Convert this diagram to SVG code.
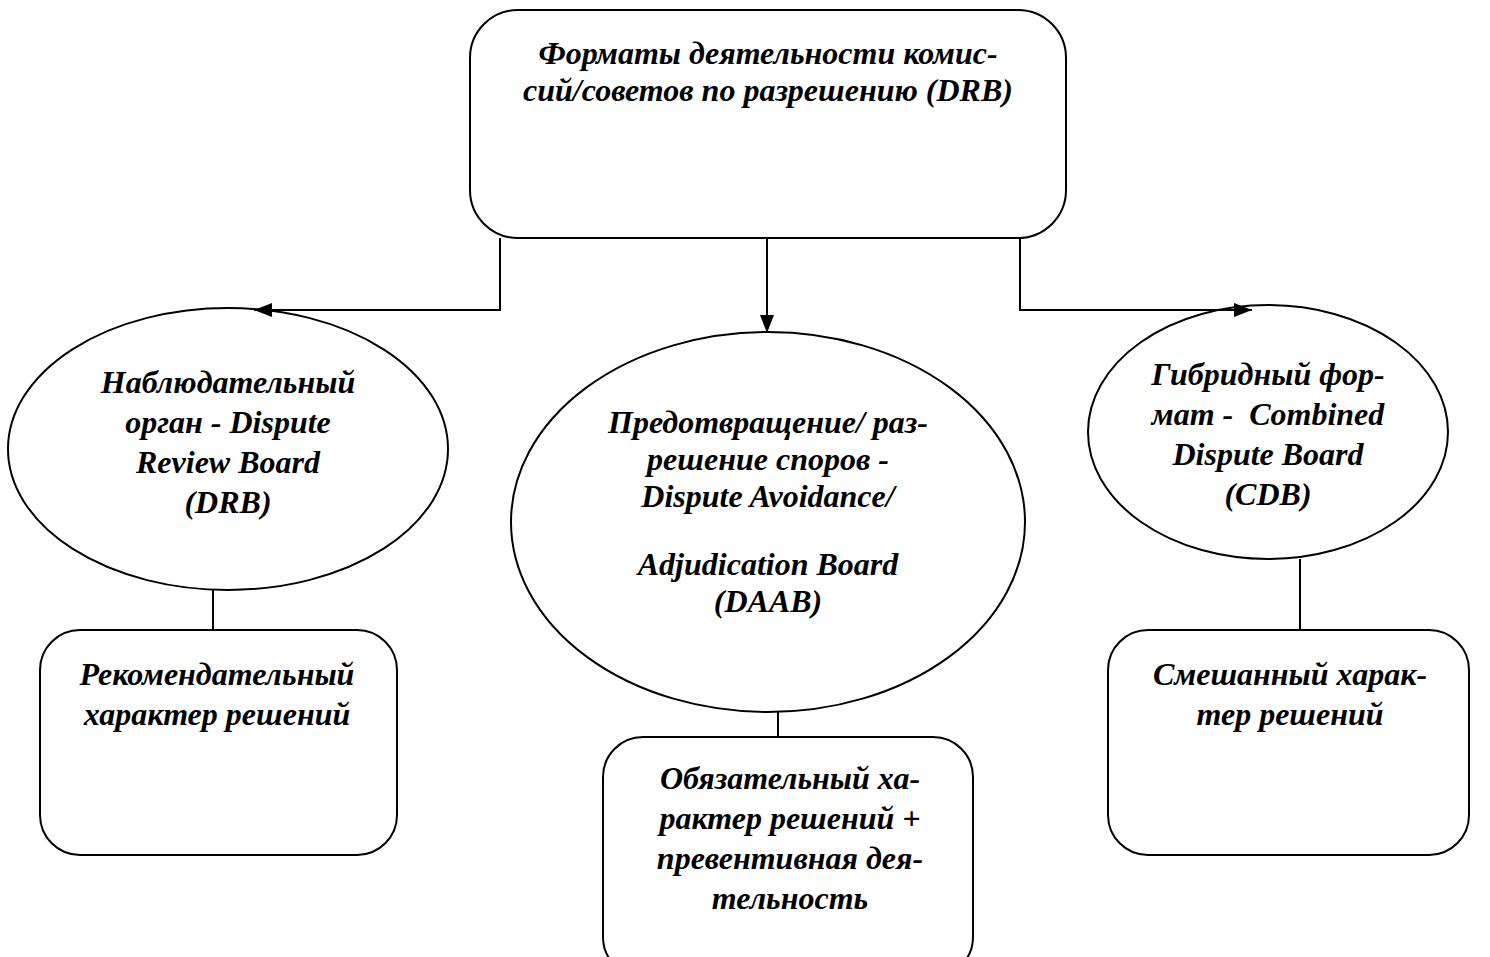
<svg xmlns="http://www.w3.org/2000/svg" width="1490" height="957" viewBox="0 0 1490 957">
<style>
.s{fill:#fff;stroke:#000;stroke-width:2}
.c{fill:none;stroke:#000;stroke-width:2}
text{font-family:"Liberation Serif","Times New Roman",serif;font-weight:bold;font-style:italic;font-size:32px;text-anchor:middle;fill:#000}
</style>
<defs>
<marker id="a" viewBox="0 0 18 14" refX="18" refY="7" markerWidth="18" markerHeight="14" markerUnits="userSpaceOnUse" orient="auto">
<path d="M0,0 L18,7 L0,14 z" fill="#000"/>
</marker>
</defs>
<rect width="1490" height="957" fill="#fff"/>
<g id="top">
<rect class="s" x="470" y="10" width="596" height="228" rx="48"/>
<text x="768" y="64">Форматы деятельности комис-</text>
<text x="768" y="101">сий/советов по разрешению (DRB)</text>
</g>
<g id="drb">
<ellipse class="s" cx="228" cy="449" rx="220" ry="141"/>
<text x="228" y="393">Наблюдательный</text>
<text x="228" y="433">орган - Dispute</text>
<text x="228" y="473">Review Board</text>
<text x="228" y="513">(DRB)</text>
</g>
<g id="daab">
<ellipse class="s" cx="768" cy="522" rx="257" ry="190"/>
<text x="768" y="433">Предотвращение/ раз-</text>
<text x="768" y="470">решение споров -</text>
<text x="768" y="507">Dispute Avoidance/</text>
<text x="768" y="575">Adjudication Board</text>
<text x="768" y="612">(DAAB)</text>
</g>
<g id="cdb">
<ellipse class="s" cx="1268" cy="432" rx="180" ry="127"/>
<text x="1268" y="385">Гибридный фор-</text>
<text x="1268" y="425" xml:space="preserve" style="white-space:pre">мат -  Combined</text>
<text x="1268" y="465">Dispute Board</text>
<text x="1268" y="505">(CDB)</text>
</g>
<g id="rec">
<rect class="s" x="40" y="630" width="357" height="225" rx="40"/>
<text x="217" y="685">Рекомендательный</text>
<text x="217" y="725">характер решений</text>
</g>
<g id="obl">
<rect class="s" x="603" y="737" width="370" height="240" rx="40"/>
<text x="790" y="789">Обязательный ха-</text>
<text x="790" y="829">рактер решений +</text>
<text x="790" y="869">превентивная дея-</text>
<text x="790" y="909">тельность</text>
</g>
<g id="mix">
<rect class="s" x="1108" y="630" width="361" height="225" rx="40"/>
<text x="1290" y="685">Смешанный харак-</text>
<text x="1290" y="725">тер решений</text>
</g>
<g id="connectors">
<polyline class="c" points="500,238 500,310 254,310" marker-end="url(#a)"/>
<polyline class="c" points="767,238 767,333" marker-end="url(#a)"/>
<polyline class="c" points="1020,238 1020,310 1252,310" marker-end="url(#a)"/>
<line class="c" x1="213" y1="590" x2="213" y2="630"/>
<line class="c" x1="778" y1="712" x2="778" y2="737"/>
<line class="c" x1="1300" y1="559" x2="1300" y2="630"/>
</g>
</svg>
